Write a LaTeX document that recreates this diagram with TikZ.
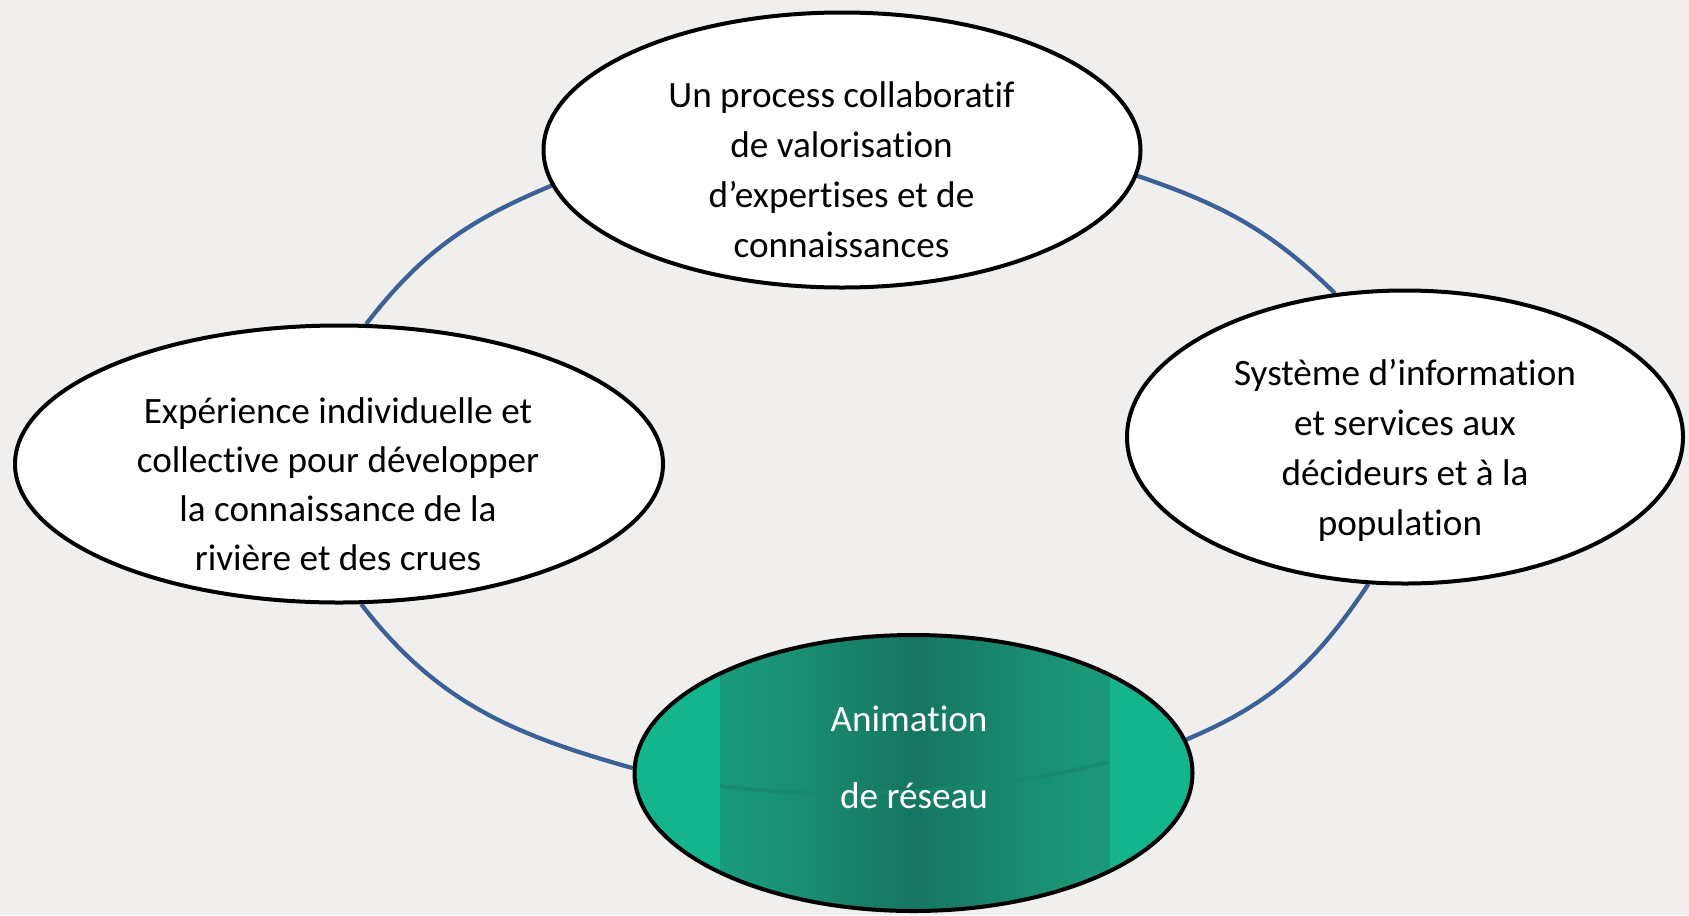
\documentclass[tikz,border=0pt]{standalone}
\usepackage{fontspec}
\setmainfont{Carlito}[Ligatures=NoCommon]
\usetikzlibrary{shapes.geometric}
\pgfdeclarelayer{bgfill}
\pgfdeclarelayer{edges}
\pgfsetlayers{bgfill,edges,main}
\definecolor{bgc}{RGB}{240,239,237}
\definecolor{ringc}{RGB}{60,97,150}
\definecolor{gbase}{RGB}{20,180,140}
\definecolor{gedge}{RGB}{24,174,137}
\definecolor{gmid}{RGB}{26,150,119}
\definecolor{gdark}{RGB}{22,118,96}
\definecolor{garcc}{RGB}{24,135,108}
\pgfdeclarehorizontalshading{gband}{100bp}{color(0bp)=(gedge); color(30bp)=(gmid); color(50bp)=(gdark); color(70bp)=(gmid); color(100bp)=(gedge)}
\begin{document}
\begin{tikzpicture}[x=0.75pt,y=-0.75pt,
  bubble/.style={ellipse, draw=black, line width=3pt, inner sep=0pt, fill=white},
  ringline/.style={draw=ringc, line width=3.2pt},
  lbl/.style={anchor=base, inner sep=0pt, font=\fontsize{27.9pt}{37pt}\selectfont, text=black},
  lblw/.style={lbl, text=white}]
\begin{pgfonlayer}{bgfill}
\fill[bgc] (0,0) rectangle (1689,915);
\end{pgfonlayer}
\useasboundingbox (0,0) rectangle (1689,915);

% white ellipses
\node[bubble, minimum width=447.75pt, minimum height=206.25pt] (top) at (842,150) {};
\node[bubble, minimum width=486pt, minimum height=207.75pt] (left) at (339,464) {};
\node[bubble, minimum width=417pt, minimum height=219.75pt] (right) at (1405,437) {};

% green ellipse
\coordinate (ac) at (913.5,773);
\begin{scope}
\clip (ac) ellipse [x radius=279, y radius=138];
\fill[gbase] (600,600) rectangle (1250,915);
\shade[shading=gband] (720,600) rectangle (1110,915);
\draw[garcc, line width=3pt, opacity=0.7] (720,786) .. controls (830,800) and (980,795) .. (1108,762);
\end{scope}
\node[bubble, fill=none, minimum width=418.5pt, minimum height=207pt] (anim) at (ac) {};

% ring connectors
\begin{pgfonlayer}{edges}
\draw[ringline] (top.187.5) to[out=202.6,in=52.3] (left.79.9);
\draw[ringline] (left.279.7) to[out=307.6,in=164.3] (anim.179);
\draw[ringline] (anim.7.8) to[out=22.7,in=236.3] (right.256.7);
\draw[ringline] (right.116.9) to[out=135.6,in=341.2] (top.355.1);
\end{pgfonlayer}

% texts
\node[lbl] (t1) at (841.5,107) {Un process collaboratif};
\node[lbl] (t2) at (841.5,157) {de valorisation};
\node[lbl] (t3) at (841.5,207) {d’expertises et de};
\node[lbl] (t4) at (841.5,257) {connaissances};

\node[lbl] (l1) at (338,423) {Expérience individuelle et};
\node[lbl] (l2) at (338,472) {collective pour développer};
\node[lbl] (l3) at (338,521) {la connaissance de la};
\node[lbl] (l4) at (338,570) {rivière et des crues};

\node[lbl] (r1) at (1405,385) {Système d’information};
\node[lbl] (r2) at (1405,435) {et services aux};
\node[lbl] (r3) at (1405,485) {décideurs et à la};
\node[lbl] (r4) at (1400,535) {population};

\node[lblw] (a1) at (909,731) {Animation};
\node[lblw] (a2) at (914,808) {de réseau};
\end{tikzpicture}
\end{document}
